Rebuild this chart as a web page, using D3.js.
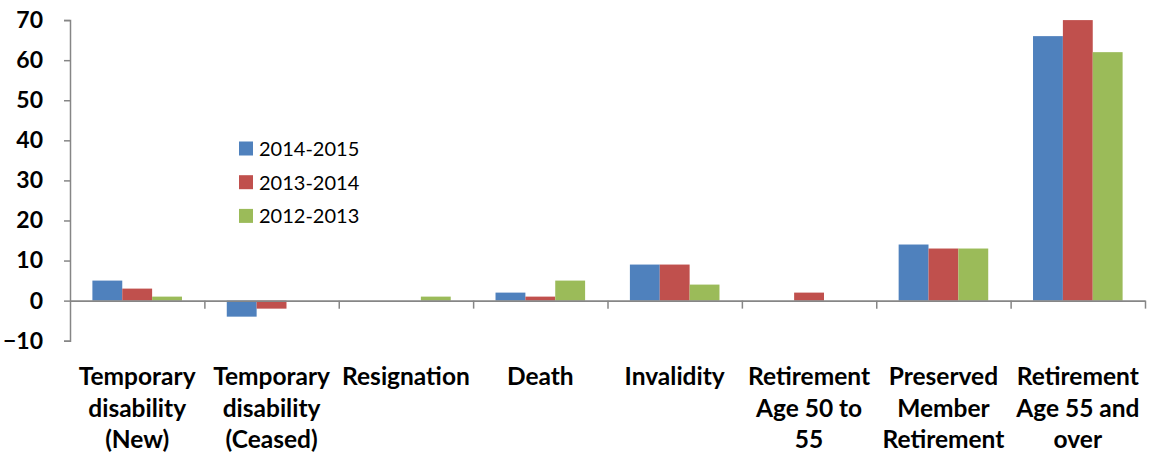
<!DOCTYPE html>
<html>
<head>
<meta charset="utf-8">
<script src="https://cdn.jsdelivr.net/npm/d3@7"></script>
<style>
  body { margin: 0; background: #fff; }
  text { font-family: Lato, "Open Sans", sans-serif; }
</style>
</head>
<body>
<div id="chart"></div>
<script>
var categories = [
  ["Temporary", "disability", "(New)"],
  ["Temporary", "disability", "(Ceased)"],
  ["Resignation"],
  ["Death"],
  ["Invalidity"],
  ["Retirement", "Age 50 to", "55"],
  ["Preserved", "Member", "Retirement"],
  ["Retirement", "Age 55 and", "over"]
];
var seriesNames = ["2014-2015", "2013-2014", "2012-2013"];
var colors = ["#4F81BD", "#C0504D", "#9BBB59"];
var values2014 = [5, -4, 0, 2, 9, 0, 14, 66];
var values2013 = [3, -2, 0, 1, 9, 2, 13, 70];
var values2012 = [1, 0, 1, 5, 4, 0, 13, 62];
var yTicks = [-10, 0, 10, 20, 30, 40, 50, 60, 70];

var series = [values2014, values2013, values2012];
var width = 1150, height = 455;
var plotLeft = 70, plotRight = 1145, plotTop = 20.1, plotBottom = 340.7;

var svg = d3.select("#chart").append("svg")
  .attr("width", width)
  .attr("height", height);

var x = d3.scaleBand()
  .domain(d3.range(categories.length))
  .range([plotLeft, plotRight])
  .padding(0);

// excel style gap width 150%
var barW = x.bandwidth() / 4.5;
var inner = d3.scaleBand()
  .domain(d3.range(series.length))
  .range([barW * 0.75, barW * 3.75]);

var y = d3.scaleLinear()
  .domain([-10, 70])
  .range([plotBottom, plotTop]);

// bars
series.forEach(function(vals, s) {
  svg.append("g").selectAll("rect")
    .data(vals)
    .enter().append("rect")
    .attr("x", function(d, i) { return x(i) + inner(s); })
    .attr("y", function(d) { return y(Math.max(0, d)); })
    .attr("width", inner.bandwidth())
    .attr("height", function(d) { return Math.abs(y(d) - y(0)); })
    .style("fill", colors[s]);
});

// y axis
var yAxis = d3.axisLeft(y).tickValues(yTicks).tickSize(6).tickPadding(21);
var gy = svg.append("g")
  .attr("transform", "translate(" + plotLeft + ",0)")
  .call(yAxis);
gy.select(".domain").attr("stroke", "#868686").attr("stroke-width", 1.5);
gy.selectAll(".tick line").attr("stroke", "#868686").attr("stroke-width", 1.5);
gy.selectAll(".tick text")
  .attr("font-size", 23)
  .attr("font-weight", "bold")
  .attr("fill", "#000");

// zero line with category ticks
var xAxis = d3.axisBottom(d3.scaleLinear().domain([0, categories.length]).range([plotLeft, plotRight]))
  .tickValues(d3.range(1, categories.length + 1))
  .tickSize(8)
  .tickSizeOuter(0)
  .tickFormat("");
var gx = svg.append("g")
  .attr("transform", "translate(0," + y(0) + ")")
  .call(xAxis);
gx.select(".domain").attr("stroke", "#868686").attr("stroke-width", 1.8);
gx.selectAll(".tick line").attr("stroke", "#868686").attr("stroke-width", 1.5);

// category labels
var labels = svg.append("g").selectAll("text")
  .data(categories)
  .enter().append("text")
  .attr("text-anchor", "middle")
  .attr("font-size", 24.5)
  .attr("font-weight", "bold")
  .attr("fill", "#000");
labels.each(function(lines, i) {
  var t = d3.select(this);
  lines.forEach(function(l, j) {
    t.append("tspan")
      .attr("x", x(i) + x.bandwidth() / 2)
      .attr("y", 385 + j * 31.5)
      .text(l);
  });
});

// legend
var legend = svg.append("g").attr("transform", "translate(239,141.5)");
seriesNames.forEach(function(name, i) {
  var row = legend.append("g").attr("transform", "translate(0," + (i * 33.7) + ")");
  row.append("rect")
    .attr("width", 14).attr("height", 14)
    .style("fill", colors[i]);
  row.append("text")
    .attr("x", 20).attr("y", 14.5)
    .attr("font-size", 20)
    .attr("fill", "#000")
    .text(name);
});
</script>
</body>
</html>
